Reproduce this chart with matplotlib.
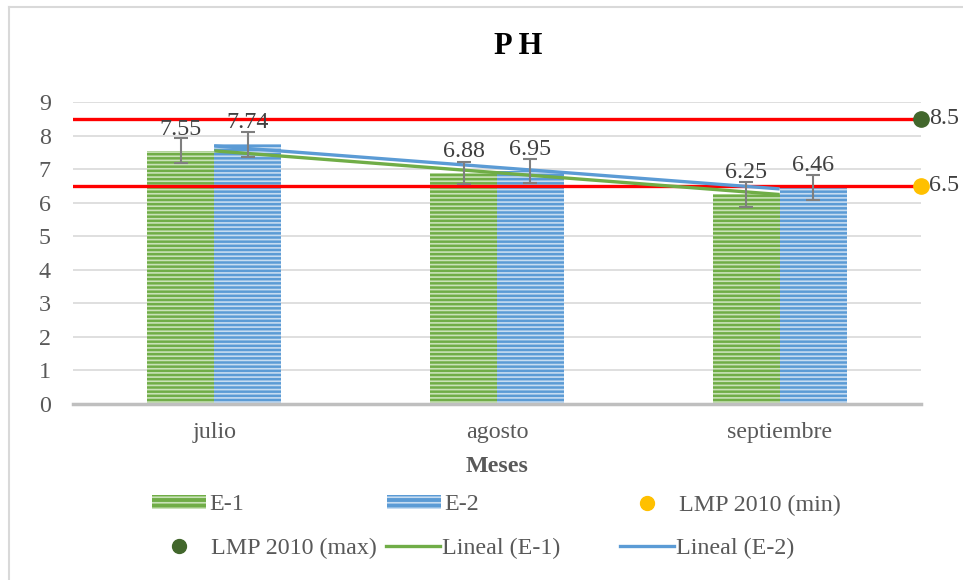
import numpy as np
import matplotlib
matplotlib.use("Agg")
import matplotlib.pyplot as plt
from matplotlib.patches import Patch
from matplotlib.lines import Line2D

plt.rcParams['font.family'] = ['Liberation Serif', 'DejaVu Serif']
plt.rcParams['hatch.linewidth'] = 1.2

# data
meses = ["julio", "agosto", "septiembre"]
e1 = [7.55, 6.88, 6.25]
e2 = [7.74, 6.95, 6.46]
e1_err = [0.37, 0.33, 0.37]
e2_err = [0.37, 0.35, 0.37]
lmp_min = 6.5
lmp_max = 8.5
yticks = list(range(0, 10))

GREEN = "#70AD47"
BLUE = "#5B9BD5"
GREEN_L = "#C9E2B8"
BLUE_L = "#C6DCF1"
TXT = "#595959"
FS = 17.3

fig = plt.figure(figsize=(9.63, 5.80), dpi=100)
ax = fig.add_axes([73/963, 1-404/580, (921-73)/963, (404-102)/580])

x = np.arange(len(meses))
w = 0.237
ax.bar(x - w/2, e1, w, color=GREEN, edgecolor=GREEN_L, linewidth=0, hatch='----', zorder=2)
ax.bar(x + w/2, e2, w, color=BLUE, edgecolor=BLUE_L, linewidth=0, hatch='----', zorder=2)

ax.errorbar(x - w/2, e1, yerr=e1_err, fmt='none', ecolor='#7F7F7F', elinewidth=1.5, capsize=5, capthick=1.5, zorder=5)
ax.errorbar(x + w/2, e2, yerr=e2_err, fmt='none', ecolor='#7F7F7F', elinewidth=1.5, capsize=5, capthick=1.5, zorder=5)

for xi, v in zip(x - w/2, e1):
    ax.annotate(f"{v:.2f}", (xi, v), xytext=(0, 8), textcoords='offset points',
                ha='center', va='bottom', fontsize=FS, color='#404040', zorder=6)
for xi, v in zip(x + w/2, e2):
    ax.annotate(f"{v:.2f}", (xi, v), xytext=(0, 8), textcoords='offset points',
                ha='center', va='bottom', fontsize=FS, color='#404040', zorder=6)

# limit lines
ax.axhline(lmp_max, color='#FF0000', linewidth=2.4, zorder=3)
ax.axhline(lmp_min, color='#FF0000', linewidth=2.4, zorder=3)
ax.plot([2.5], [lmp_max], 'o', color='#42672C', markersize=11, clip_on=False, zorder=7)
ax.plot([2.5], [lmp_min], 'o', color='#FFC000', markersize=11, clip_on=False, zorder=7)
ax.annotate(f"{lmp_max}", (2.5, lmp_max), xytext=(6, 0), textcoords='offset points',
            ha='left', va='center', fontsize=FS, color='#404040', annotation_clip=False)
ax.annotate(f"{lmp_min}", (2.5, lmp_min), xytext=(6, 0), textcoords='offset points',
            ha='left', va='center', fontsize=FS, color='#404040', annotation_clip=False)

# linear trends
p1 = np.polyfit(x, e1, 1)
p2 = np.polyfit(x, e2, 1)
ax.plot(x, np.polyval(p1, x), color=GREEN, linewidth=2.4, zorder=4, solid_capstyle='butt')
ax.plot(x, np.polyval(p2, x), color=BLUE, linewidth=2.4, zorder=4, solid_capstyle='butt')

ax.set_xlim(-0.5, 2.5)
ax.set_ylim(0, 9)
ax.set_yticks(yticks)
ax.set_xticks(x)
ax.set_xticklabels(meses)
ax.tick_params(length=0, labelsize=FS, labelcolor=TXT)
ax.tick_params(axis='x', pad=13)
ax.tick_params(axis='y', pad=16)
ax.grid(axis='y', color='#D9D9D9', linewidth=1.2, zorder=0)
ax.set_axisbelow(True)
for s in ['left', 'right', 'top']:
    ax.spines[s].set_visible(False)
ax.spines['bottom'].set_color('#BFBFBF')
ax.spines['bottom'].set_linewidth(2.5)
ax.spines['bottom'].set_zorder(6)

fig.text(518/963, 1-47/580, "P H", ha='center', va='center', fontsize=22,
         fontweight='bold', color='black')
fig.text(497/963, 1-467/580, "Meses", ha='center', va='center', fontsize=FS,
         fontweight='bold', color=TXT)

# border (left & top visible)
fig.add_artist(Line2D([9/963, 9/963], [0, 1-7/580], color='#D9D9D9', linewidth=1.5))
fig.add_artist(Line2D([9/963, 1], [1-7/580, 1-7/580], color='#D9D9D9', linewidth=1.5))

# legend entries placed individually: (handle, label, handle start x, y, handlelength, textpad)
entries = [
    (Patch(facecolor=GREEN, edgecolor=GREEN_L, linewidth=0, hatch='---'), "E-1", 152, 505, 2.25, 0.15),
    (Patch(facecolor=BLUE, edgecolor=BLUE_L, linewidth=0, hatch='---'), "E-2", 387, 505, 2.25, 0.15),
    (Line2D([], [], marker='o', linestyle='none', color='#FFC000', markersize=10), "LMP 2010 (min)", 635, 505, 1.0, 0.85),
    (Line2D([], [], marker='o', linestyle='none', color='#42672C', markersize=10), "LMP 2010 (max)", 167, 548, 1.0, 0.85),
    (Line2D([], [], color=GREEN, linewidth=2.4), "Lineal (E-1)", 386, 548, 2.25, 0.1),
    (Line2D([], [], color=BLUE, linewidth=2.4), "Lineal (E-2)", 620, 548, 2.25, 0.1),
]
for h, lab, px, py, hl, tp in entries:
    lg = fig.legend([h], [lab], loc='center left', bbox_to_anchor=(px/963, 1-py/580),
                    frameon=False, fontsize=FS, handlelength=hl, handletextpad=tp,
                    borderpad=0, borderaxespad=0, handleheight=0.5)
    for t in lg.get_texts():
        t.set_color(TXT)

fig.savefig("out.png", dpi=100)
